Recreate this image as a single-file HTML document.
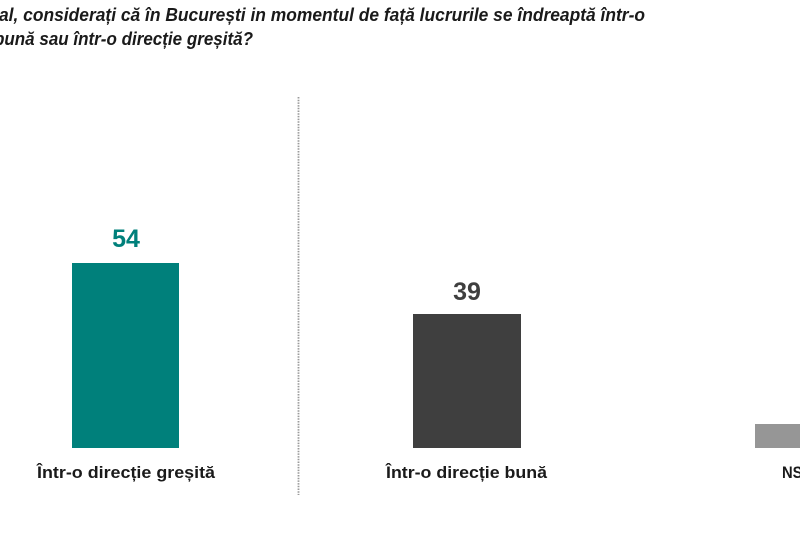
<!DOCTYPE html>
<html>
<head>
<meta charset="utf-8">
<style>
html,body{margin:0;padding:0;background:#fff;}
body{width:800px;height:534px;overflow:hidden;}
svg{display:block;}
text{font-family:"Liberation Sans",sans-serif;}
</style>
</head>
<body>
<svg width="800" height="534" viewBox="0 0 800 534" xmlns="http://www.w3.org/2000/svg">
  <rect x="0" y="0" width="800" height="534" fill="#ffffff"/>
  <!-- Title -->
  <text x="-1" y="21" font-size="18.5" font-weight="bold" font-style="italic" fill="#1a1a1a" textLength="646" lengthAdjust="spacingAndGlyphs">al, considerați că în București in momentul de față lucrurile se îndreaptă într-o</text>
  <text x="-6" y="45" font-size="18.5" font-weight="bold" font-style="italic" fill="#1a1a1a" textLength="259" lengthAdjust="spacingAndGlyphs">bună sau într-o direcție greșită?</text>

  <!-- Dotted separator -->
  <line x1="298.5" y1="97" x2="298.5" y2="495" stroke="#9a9a9a" stroke-width="1.8" stroke-dasharray="1.5 1.2"/>

  <!-- Bars -->
  <rect x="72" y="263" width="107" height="185" fill="#00807b"/>
  <rect x="413" y="314" width="108" height="134" fill="#3f3f3f"/>
  <rect x="755" y="424" width="60" height="24" fill="#969696"/>

  <!-- Values -->
  <text x="126" y="247" font-size="25" font-weight="bold" fill="#00807b" text-anchor="middle">54</text>
  <text x="467" y="300" font-size="25" font-weight="bold" fill="#3f3f3f" text-anchor="middle">39</text>

  <!-- Category labels -->
  <text x="37" y="478" font-size="16.5" font-weight="bold" fill="#1a1a1a" textLength="178" lengthAdjust="spacingAndGlyphs">Într-o direcție greșită</text>
  <text x="386" y="478" font-size="16.5" font-weight="bold" fill="#1a1a1a" textLength="161" lengthAdjust="spacingAndGlyphs">Într-o direcție bună</text>
  <text x="782" y="478" font-size="16.5" font-weight="bold" fill="#1a1a1a" textLength="46" lengthAdjust="spacingAndGlyphs">NS/NR</text>
</svg>
</body>
</html>
